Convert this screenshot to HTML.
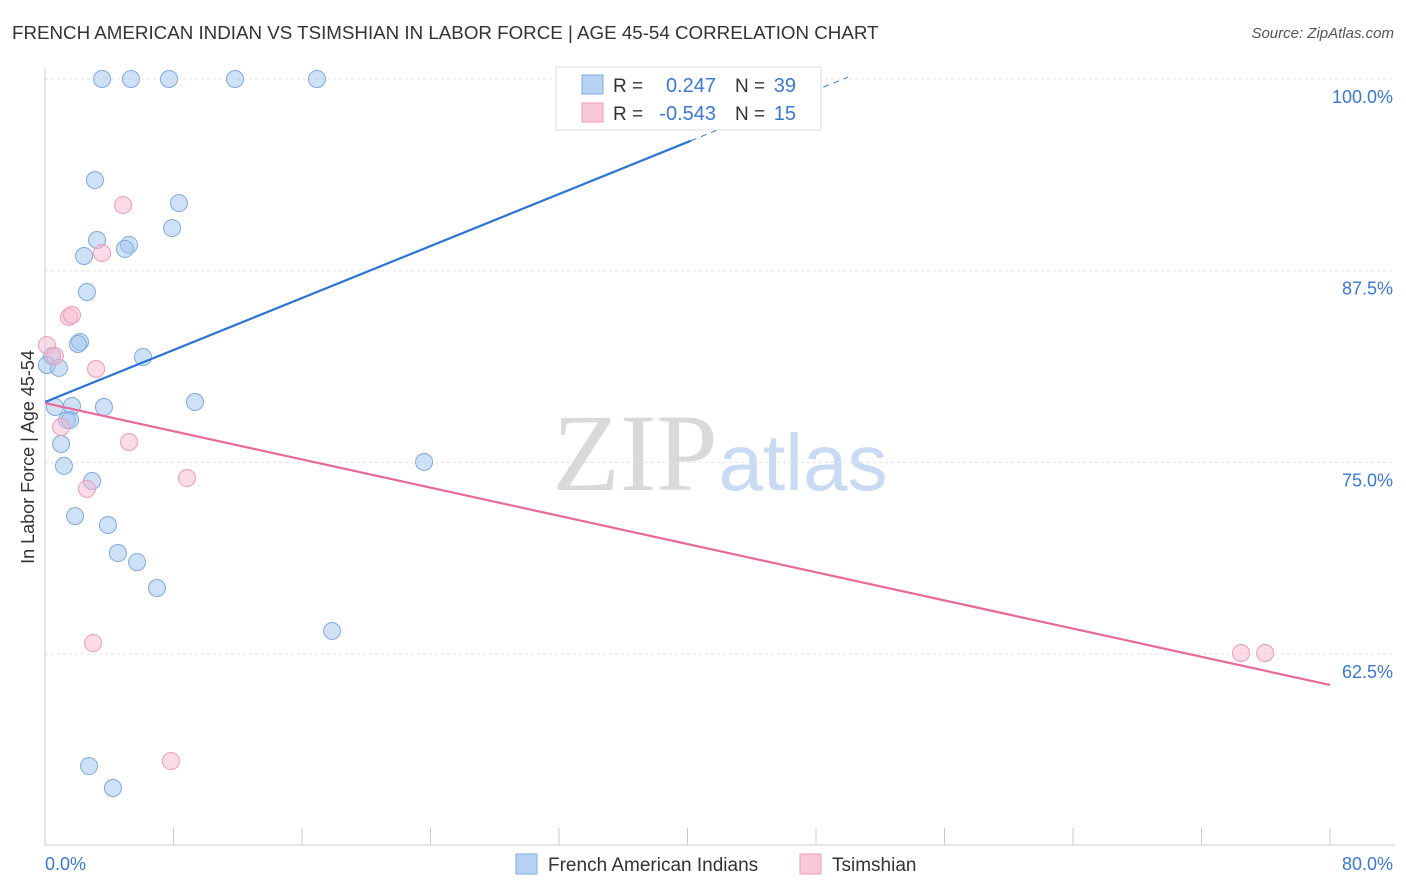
<!DOCTYPE html>
<html><head><meta charset="utf-8"><style>
body{margin:0;background:#fff;font-family:"Liberation Sans",sans-serif;}
#wrap{position:relative;width:1406px;height:892px;overflow:hidden;}
.t{position:absolute;white-space:nowrap;}
</style></head><body>
<div id="wrap">
<div class="t" style="left:12px;top:22px;font-size:18.75px;color:#333;">FRENCH AMERICAN INDIAN VS TSIMSHIAN IN LABOR FORCE | AGE 45-54 CORRELATION CHART</div>
<div class="t" style="right:12px;top:25px;font-size:15px;color:#555;font-style:italic;">Source: ZipAtlas.com</div>
<svg id="svg" width="1406" height="892" style="position:absolute;left:0;top:0"></svg>
</div>
<script>
const blueX=[3.55,5.35,7.72,11.83,16.93,34.93,3.11,8.34,7.91,3.24,5.23,4.98,2.43,2.61,2.18,2.05,6.10,0.44,0.12,0.87,9.34,0.62,1.68,3.67,1.37,1.56,1.0,23.6,1.18,2.93,1.87,3.92,4.54,5.73,6.97,17.87,2.74,4.23];
const blueY=[100,100,100,100,100,100,93.41,91.91,90.28,89.5,89.18,88.92,88.46,86.11,82.85,82.72,81.87,81.94,81.35,81.16,78.94,78.61,78.68,78.61,77.76,77.76,76.2,75.03,74.77,73.79,71.5,70.92,69.09,68.5,66.81,64.01,55.2,53.77];
const pinkX=[4.86,3.55,1.49,1.68,0.12,0.62,3.18,1.0,5.23,8.84,2.61,2.99,7.84,74.46,75.96];
const pinkY=[91.78,88.65,84.48,84.61,82.65,81.94,81.09,77.31,76.33,73.98,73.27,63.22,55.53,62.57,62.57];
const blueLine=[78.94,0.4236];
const pinkLine=[78.87,-0.2298];
const yTicks=[100,87.5,75,62.5];
const yTickLabels=["100.0%","87.5%","75.0%","62.5%"];
const xTicks=[0,8,16,24,32,40,48,56,64,72,80];

const NS="http://www.w3.org/2000/svg";
const svg=document.getElementById('svg');
const X=v=>45+v*1285/80;
const Y=v=>79+(100-v)*191.7/12.5;
function el(tag,attrs,parent){const e=document.createElementNS(NS,tag);for(const k in attrs)e.setAttribute(k,attrs[k]);(parent||svg).appendChild(e);return e;}

let w=el('text',{x:635,y:490,'font-size':110,'font-family':'Liberation Serif,serif',fill:'#d9d9d9','text-anchor':'middle'});w.textContent='ZIP';


let w2=el('text',{x:803,y:490,'font-size':80,'font-family':'Liberation Sans,sans-serif',fill:'#c9dbf3','text-anchor':'middle'});w2.textContent='atlas';



yTicks.forEach((v,i)=>{
 const g=el('line',{x1:45,x2:1395,y1:Y(v),y2:Y(v),stroke:'#e3e3e3','stroke-dasharray':'3,3'});
 
 
 const t=el('text',{x:1393,y:Y(v)+24,'font-size':18,fill:'#3a78d4','text-anchor':'end','font-family':'Liberation Sans,sans-serif'});t.textContent=yTickLabels[i];
 
 
});
const ax=el('line',{x1:45,x2:45,y1:68,y2:845,stroke:'#ccc'});


const bx=el('line',{x1:45,x2:1395,y1:845,y2:845,stroke:'#ccc'});


xTicks.forEach(v=>{const t=el('line',{x1:X(v),x2:X(v),y1:828,y2:845,stroke:'#ccc'});
 
 });
[[0,'0.0%','start',45],[80,'80.0%','end',1393]].forEach(a=>{const t=el('text',{x:a[3],y:870,'font-size':18,fill:'#3a78d4','text-anchor':a[2],'font-family':'Liberation Sans,sans-serif'});t.textContent=a[1];
 
 });
const yl=el('text',{x:0,y:0,'font-size':18,fill:'#333','text-anchor':'middle','font-family':'Liberation Sans,sans-serif',transform:'translate(34,457) rotate(-90)'});yl.textContent='In Labor Force | Age 45-54';



blueX.forEach((x,i)=>{const c=el('circle',{cx:X(x),cy:Y(blueY[i]),r:8.5,fill:'rgba(160,196,240,0.5)',stroke:'#7fa9e0','stroke-width':1});
 
 });
pinkX.forEach((x,i)=>{const c=el('circle',{cx:X(x),cy:Y(pinkY[i]),r:8.5,fill:'rgba(247,185,205,0.5)',stroke:'#ef9ab7','stroke-width':1});
 
 });

const bl=el('line',{x1:X(0),y1:Y(blueLine[0]),x2:X(40.2),y2:Y(blueLine[0]+blueLine[1]*40.2),stroke:'#2a74d6','stroke-width':2.2});


const bd=el('line',{x1:X(40.2),y1:Y(blueLine[0]+blueLine[1]*40.2),x2:X(50),y2:Y(blueLine[0]+blueLine[1]*50),stroke:'#2a74d6','stroke-width':1,'stroke-dasharray':'6,5'});


const pl=el('line',{x1:X(0),y1:Y(pinkLine[0]),x2:X(80),y2:Y(pinkLine[0]+pinkLine[1]*80),stroke:'#e8699a','stroke-width':2.2});



const lg=el('g',{});


el('rect',{x:556,y:67,width:265,height:63,fill:'#fff',stroke:'#ddd'},lg);
el('rect',{x:582,y:75,width:21,height:19,fill:'#b8d2f4',stroke:'#7fa9e0'},lg);
el('rect',{x:582,y:103,width:21,height:19,fill:'#f9c8d7',stroke:'#ef9ab7'},lg);
[[92,'0.247','39'],[120,'-0.543','15']].forEach(r=>{
 let t=el('text',{x:613,y:r[0],'font-size':19,fill:'#333','font-family':'Liberation Sans,sans-serif'},lg);t.textContent='R =';
 t=el('text',{x:716,y:r[0],'font-size':20,fill:'#3a78d4','text-anchor':'end','font-family':'Liberation Sans,sans-serif'},lg);t.textContent=r[1];
 t=el('text',{x:735,y:r[0],'font-size':19,fill:'#333','font-family':'Liberation Sans,sans-serif'},lg);t.textContent='N =';
 t=el('text',{x:796,y:r[0],'font-size':20,fill:'#3a78d4','text-anchor':'end','font-family':'Liberation Sans,sans-serif'},lg);t.textContent=r[2];
});
[[516,'#b8d2f4','#7fa9e0','French American Indians','legend-entry-french-american-indians'],[800,'#f9c8d7','#ef9ab7','Tsimshian','legend-entry-tsimshian']].forEach(a=>{
 const g=el('g',{});
 
 
 el('rect',{x:a[0],y:854,width:21,height:20,fill:a[1],stroke:a[2]},g);
 const t=el('text',{x:a[0]+32,y:871,'font-size':19,fill:'#333','font-family':'Liberation Sans,sans-serif'},g);t.textContent=a[3];
});
</script>
</body></html>
